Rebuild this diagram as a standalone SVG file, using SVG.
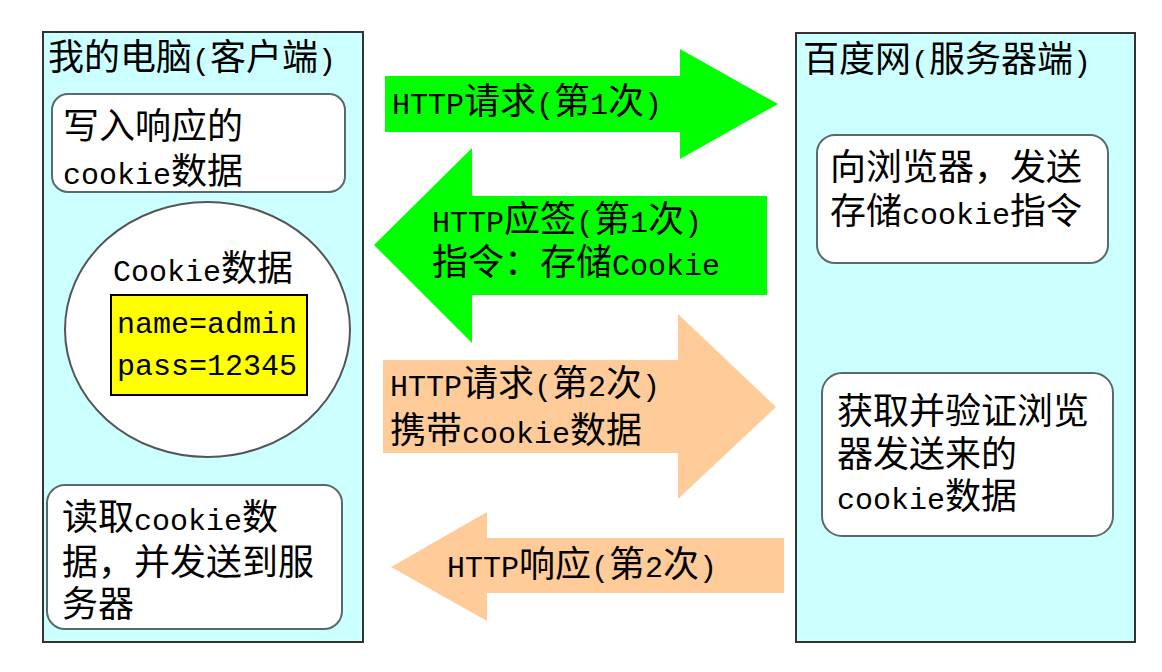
<svg xmlns="http://www.w3.org/2000/svg" width="1162" height="672" viewBox="0 0 1162 672">
<style>
text{font-family:"Liberation Mono","Noto Sans CJK SC",monospace;font-size:36px;fill:#000}
.l{font-size:30px}
.panel{fill:#ccffff;stroke:#333;stroke-width:2}
.box{fill:#fff;stroke:#5a6a6a;stroke-width:2}
.g{fill:#00ff00}
.o{fill:#ffcc99}
</style>
<rect width="1162" height="672" fill="#fff"/>
<g id="client">
<rect class="panel" x="43" y="32" width="320" height="610"/>
<text x="48" y="70">我的电脑<tspan class="l">(</tspan>客户端<tspan class="l">)</tspan></text>
</g>
<g id="server">
<rect class="panel" x="796" y="33" width="339" height="609"/>
<text x="803" y="72">百度网<tspan class="l">(</tspan>服务器端<tspan class="l">)</tspan></text>
</g>
<g id="write-cookie">
<rect class="box" x="52" y="94" width="293" height="98" rx="16"/>
<text x="63" y="139">写入响应的</text>
<text x="63" y="184"><tspan class="l">cookie</tspan>数据</text>
</g>
<g id="cookie-store">
<ellipse cx="207.5" cy="329.5" rx="142.5" ry="127.5" fill="#fff" stroke="#555" stroke-width="2"/>
<text x="113" y="281"><tspan class="l">Cookie</tspan>数据</text>
<rect x="111" y="295" width="196" height="100" fill="#ffff00" stroke="#000" stroke-width="2"/>
<text class="l" x="117" y="333">name=admin</text>
<text class="l" x="117" y="375">pass=12345</text>
</g>
<g id="read-cookie">
<rect class="box" x="47" y="485" width="295" height="144" rx="18"/>
<text x="62" y="530">读取<tspan class="l">cookie</tspan>数</text>
<text x="62" y="575">据，并发送到服</text>
<text x="62" y="617">务器</text>
</g>
<g id="send-instruction">
<rect class="box" x="817" y="135" width="291" height="128" rx="18"/>
<text x="830" y="180">向浏览器，发送</text>
<text x="830" y="224">存储<tspan class="l">cookie</tspan>指令</text>
</g>
<g id="verify-cookie">
<rect class="box" x="822" y="373" width="291" height="163" rx="20"/>
<text x="837" y="424">获取并验证浏览</text>
<text x="837" y="467">器发送来的</text>
<text x="837" y="509"><tspan class="l">cookie</tspan>数据</text>
</g>
<g id="connectors">
<g id="req1">
<polygon class="g" points="385,76 680,76 680,49 778,104 680,159 680,132 385,132"/>
<text x="392" y="114"><tspan class="l">HTTP</tspan>请求<tspan class="l">(</tspan>第<tspan class="l">1</tspan>次<tspan class="l">)</tspan></text>
</g>
<g id="resp1">
<polygon class="g" points="767,196 472,196 472,148 374,245 472,343 472,295 767,295"/>
<text x="432" y="232"><tspan class="l">HTTP</tspan>应签<tspan class="l">(</tspan>第<tspan class="l">1</tspan>次<tspan class="l">)</tspan></text>
<text x="432" y="275">指令：存储<tspan class="l">Cookie</tspan></text>
</g>
<g id="req2">
<polygon class="o" points="383,360 678,360 678,314 776,407 678,499 678,453 383,453"/>
<text x="390" y="396"><tspan class="l">HTTP</tspan>请求<tspan class="l">(</tspan>第<tspan class="l">2</tspan>次<tspan class="l">)</tspan></text>
<text x="390" y="443">携带<tspan class="l">cookie</tspan>数据</text>
</g>
<g id="resp2">
<polygon class="o" points="784,538 487,538 487,512 391,567 487,621 487,593 784,593"/>
<text x="447" y="577"><tspan class="l">HTTP</tspan>响应<tspan class="l">(</tspan>第<tspan class="l">2</tspan>次<tspan class="l">)</tspan></text>
</g>
</g>
</svg>
